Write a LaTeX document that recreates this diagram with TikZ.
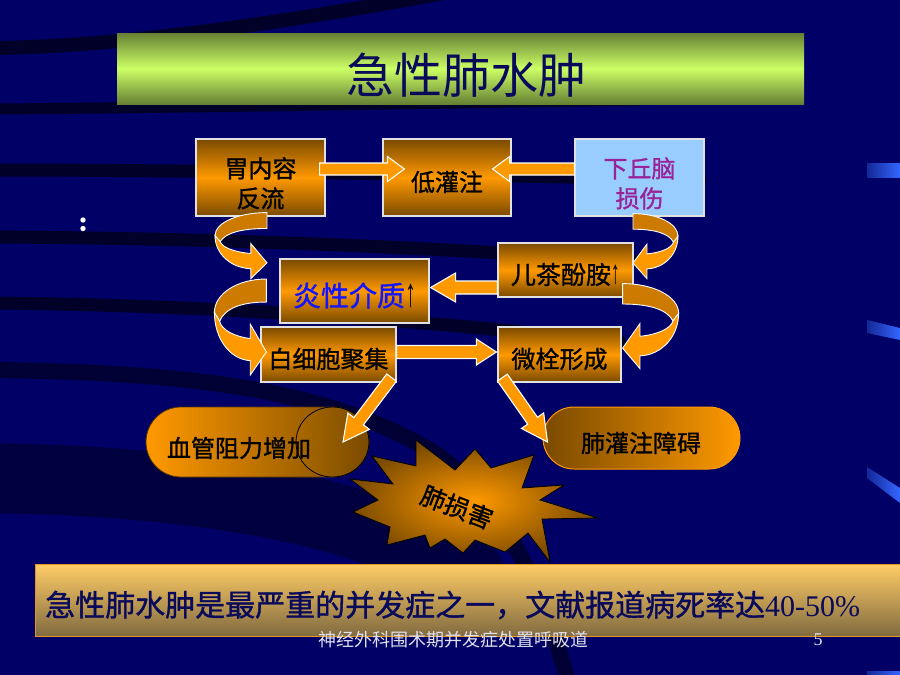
\documentclass[tikz,border=0pt]{standalone}
\usepackage{fontspec}
\usepackage{graphicx}
\setmainfont{Liberation Serif}
\newfontfamily\cjk{Noto Sans CJK SC}
\newfontfamily\cjkb[FakeBold=1.2]{Noto Sans CJK SC}
\usetikzlibrary{calc}
\definecolor{cNavy}{RGB}{0,0,102}
\definecolor{cStreak}{RGB}{0,0,40}
\definecolor{cOrange}{RGB}{255,153,0}
\definecolor{cBrown}{RGB}{122,74,0}
\definecolor{cBack}{RGB}{204,122,0}
\definecolor{cBorder}{RGB}{225,225,225}
\definecolor{cLBlue}{RGB}{153,204,255}
\definecolor{cPurple}{RGB}{153,34,153}
\definecolor{cOlive}{RGB}{102,128,51}
\definecolor{cLime}{RGB}{204,255,102}
\definecolor{cTitle}{RGB}{10,10,90}
\definecolor{cBarTop}{RGB}{255,204,102}
\definecolor{cBarBot}{RGB}{128,106,64}
\definecolor{cBarLine}{RGB}{230,150,30}
\definecolor{cFoot}{RGB}{225,225,240}
\definecolor{cBlueDim}{RGB}{20,40,150}
\definecolor{cBlueBright}{RGB}{51,102,255}
\definecolor{cBlueText}{RGB}{20,20,255}
\definecolor{cCapL}{RGB}{170,105,0}
\definecolor{cCylLine}{RGB}{90,55,0}
\newcommand\lw[2][-4.5pt]{\raisebox{#1}[\height][\depth]{#2}}
\newcommand\uparr[1]{{\color{black}\scalebox{0.55}[1]{\rmfamily\fontsize{#1}{#1}\selectfont ↑}}}
% block arrow: #1 start, #2 tip, #3 shaft half width, #4 head half width, #5 head length
\newcommand\barrow[5]{%
  \coordinate (ba-hb) at ($(#2)!#5!(#1)$);
  \path[blockarr] ($(#1)!#3!90:(#2)$) -- ($(ba-hb)!#3!90:(#2)$) -- ($(ba-hb)!#4!90:(#2)$) -- (#2)
    -- ($(ba-hb)!#4!-90:(#2)$) -- ($(ba-hb)!#3!-90:(#2)$) -- ($(#1)!#3!-90:(#2)$) -- cycle;}
% curved ribbon arrow: #1 tail point, #2 signed width, #3 height
\newcommand\curvarr[3]{%
  \begin{scope}[shift={#1}, xscale=#2, yscale=#3]
    \path[cback] (0,0) .. controls (0.55,0) and (1,0.15) .. (1,0.35) -- (0.9,0.44)
      .. controls (0.8,0.31) and (0.5,0.24) .. (0,0.24) -- cycle;
    \path[cfront] (1,0.35) .. controls (1,0.62) and (0.7,0.84) .. (0.31,0.85) -- (0.31,1) -- (0,0.76)
      -- (0.31,0.47) -- (0.31,0.62) .. controls (0.62,0.6) and (0.86,0.53) .. (0.9,0.44) -- cycle;
  \end{scope}}
\begin{document}
\begin{tikzpicture}[x=1pt,y=-1pt,
  obox/.style={draw=cBorder, line width=1.2pt, top color=cBrown, bottom color=cBrown, middle color=cOrange,
    inner sep=0pt, font=\cjkb\fontsize{24}{30}\selectfont},
  lbox/.style={draw=cBorder, line width=1.2pt, fill=cLBlue, text=cPurple,
    inner sep=0pt, font=\cjkb\fontsize{24}{30}\selectfont},
  blockarr/.style={fill=cOrange, draw=white, line width=1.1pt, line join=miter},
  cback/.style={fill=cBack, draw=white, line width=0.9pt, line join=round},
  cfront/.style={fill=cOrange, draw=white, line width=0.9pt, line join=miter},
  streak/.style={draw=cStreak, line cap=round},
  lbl/.style={inner sep=0pt, font=\cjkb\fontsize{24}{24}\selectfont}
]
\useasboundingbox (0,0) rectangle (900,675);
\clip (0,0) rectangle (900,675);
% background
\fill[cNavy] (0,0) rectangle (900,675);
\draw[streak, line width=70pt, opacity=0.6] (-20,478) .. controls (180,480) and (360,505) .. (470,575);
\draw[streak, line width=14pt] (-10,48) .. controls (100,47) and (250,30) .. (470,-12);
\draw[streak, line width=11pt] (-10,109) .. controls (150,108) and (400,104) .. (640,100);
\draw[streak, line width=13pt] (-10,170) .. controls (200,170) and (500,175) .. (700,180);
\draw[streak, line width=13pt] (-10,237) .. controls (200,238) and (420,246) .. (640,262);
\draw[streak, line width=13pt] (-10,303) .. controls (200,305) and (400,318) .. (620,342);
\draw[streak, line width=16pt, opacity=0.8] (-10,370) .. controls (200,372) and (330,392) .. (430,450)
   .. controls (500,495) and (545,590) .. (570,690);
% right edge decorations
\shade[left color=cBlueDim, right color=cBlueBright] (867,163) -- (900,163) -- (900,177) -- (867,177) -- cycle;
\shade[left color=cBlueDim, right color=cBlueBright] (867,320) -- (900,328) -- (900,340) -- (867,333) -- cycle;
\shade[left color=cBlueDim, right color=cBlueBright] (867,467) -- (900,488) -- (900,503) -- (867,478) -- cycle;
\shade[left color=cBlueDim, right color=cBlueBright] (867,671) -- (900,671) -- (900,676) -- (867,676) -- cycle;
% dots
\fill[white] (83,220) circle (2.7);
\fill[white] (83,228.5) circle (2.7);
% title
\node[minimum width=687pt, minimum height=71pt, inner sep=0pt, top color=cOlive, bottom color=cOlive,
  middle color=cLime] (tbar) at (460.5,68.5) {};
\node[text=cTitle, font=\cjk\fontsize{48}{48}\selectfont, inner sep=0pt] (ttl) at (466,75) {急性肺水肿};
% star
\filldraw[draw=black, line width=0.8pt, inner color=cOrange, outer color=cBrown]
  (350,479) -- (393,484) -- (372,456) -- (416,466) -- (416,440) -- (455,470) -- (475,449) -- (491,468)
  -- (534,455) -- (522,488) -- (564,485) -- (540,500) -- (598,518) -- (542,519) -- (550,562)
  -- (528,533) -- (505,552) -- (475,540) -- (463,553) -- (445,539) -- (430,548) -- (425,535)
  -- (387,545) -- (390,527) -- (353,512) -- (378,500) -- cycle;
\node[inner sep=0pt, font=\cjkb\fontsize{25}{25}\selectfont, rotate=-21] (dmg) at (457,507) {肺损害};
% cylinder
\path[draw=cCylLine, line width=0.8pt, left color=cOrange, right color=cBrown]
  (181,407) -- (332.5,407) arc[start angle=-90, end angle=90, x radius=36.5, y radius=35]
  -- (181,477) arc[start angle=90, end angle=270, x radius=35, y radius=35] -- cycle;
\path[draw=black, line width=0.8pt, left color=cCapL, right color=cBrown]
  (332.5,442) ellipse [x radius=36.5, y radius=35];
\node[lbl] (cyl) at (239,448) {血管阻力增加};
% rounded box
\node[draw=cOrange, line width=1pt, rounded corners=31pt, minimum width=197pt, minimum height=62pt,
  inner sep=0pt, left color=cBrown, right color=cOrange] (rr) at (641.5,438) {};
\node[lbl] (rrt) at (641,443) {肺灌注障碍};
% boxes
\node[obox, minimum width=129pt, minimum height=77pt] (b1) at (260.5,177.5)
  {\lw[-9pt]{\begin{tabular}{@{}c@{}}胃内容\\反流\end{tabular}}};
\node[obox, minimum width=128pt, minimum height=77pt] (b2) at (447,177.5) {\lw{低灌注}};
\node[lbox, minimum width=129pt, minimum height=77pt] (b3) at (639.5,177.5)
  {\lw[-9pt]{\begin{tabular}{@{}c@{}}下丘脑\\损伤\end{tabular}}};
\node[obox, minimum width=135pt, minimum height=54pt] (b4) at (565.5,270)
  {\lw{\fontsize{25}{25}\selectfont 儿茶酚胺\uparr{33}}};
\node[obox, minimum width=149pt, minimum height=64pt] (b5) at (354.5,291)
  {\lw{\fontsize{28}{28}\selectfont\textcolor{cBlueText}{炎性介质}\uparr{40}}};
\node[obox, minimum width=135pt, minimum height=55pt] (b6) at (328.5,354.5) {\lw{白细胞聚集}};
\node[obox, minimum width=123pt, minimum height=55pt] (b7) at (559.5,354.5) {\lw{微栓形成}};
% straight block arrows
\coordinate (a1s) at ($(b1.east)+(-6,-8.5)$);
\coordinate (a1e) at ($(b2.west)+(22,-8.5)$);
\barrow{a1s}{a1e}{6pt}{12.5pt}{17pt}
\coordinate (a2s) at ($(b3.west)+(0,-8.5)$);
\coordinate (a2e) at ($(b2.east)+(-19,-8.5)$);
\barrow{a2s}{a2e}{6pt}{12.5pt}{17pt}
\coordinate (a3s) at ($(b4.west)+(0,17.5)$);
\coordinate (a3e) at ($(b5.east)+(1,-3.5)$);
\barrow{a3s}{a3e}{6.5pt}{14.5pt}{25pt}
\coordinate (a4s) at ($(b6.east)+(0,-2.5)$);
\coordinate (a4e) at ($(b7.west)+(-1,-2.5)$);
\barrow{a4s}{a4e}{6.5pt}{13pt}{20pt}
% curved arrows
\curvarr{($(b1.south)+(6.5,-4)$)}{-52}{66}
\curvarr{($(b5.west)+(-13,-12)$)}{-52}{96}
\curvarr{($(b3.south)+(-6.5,-3)$)}{45}{65}
\curvarr{($(b4.south east)+(-11,-14)$)}{56}{85}
% diagonal arrows
\coordinate (a5s) at ($(b6.south east)+(-5,-5)$);
\coordinate (a5e) at ($(cyl)+(104,-6)$);
\barrow{a5s}{a5e}{6pt}{13.5pt}{26pt}
\coordinate (a6s) at ($(b7.south west)+(5,-5)$);
\coordinate (a6e) at ($(rr.west)+(5,4)$);
\barrow{a6s}{a6e}{6pt}{13.5pt}{26pt}
% bottom bar
\node[draw=cBarLine, line width=1pt, top color=cBarTop, bottom color=cBarBot, minimum width=880pt,
  minimum height=72pt, inner sep=0pt, anchor=north west] (bar) at (35,564) {};
\node[anchor=west, text=cTitle, inner sep=0pt] (note) at (45,605)
  {{\cjkb\fontsize{30}{30}\selectfont 急性肺水肿是最严重的并发症之一，文献报道病死率达}{\fontsize{30}{30}\selectfont 40-50\%}};
% footer
\node[text=cFoot, font=\cjk\fontsize{18}{18}\selectfont, inner sep=0pt] (foot) at (453.5,640) {神经外科围术期并发症处置呼吸道};
\node[text=cFoot, font=\fontsize{18}{18}\selectfont, inner sep=0pt] (pg) at (818,640) {5};
\end{tikzpicture}
\end{document}
